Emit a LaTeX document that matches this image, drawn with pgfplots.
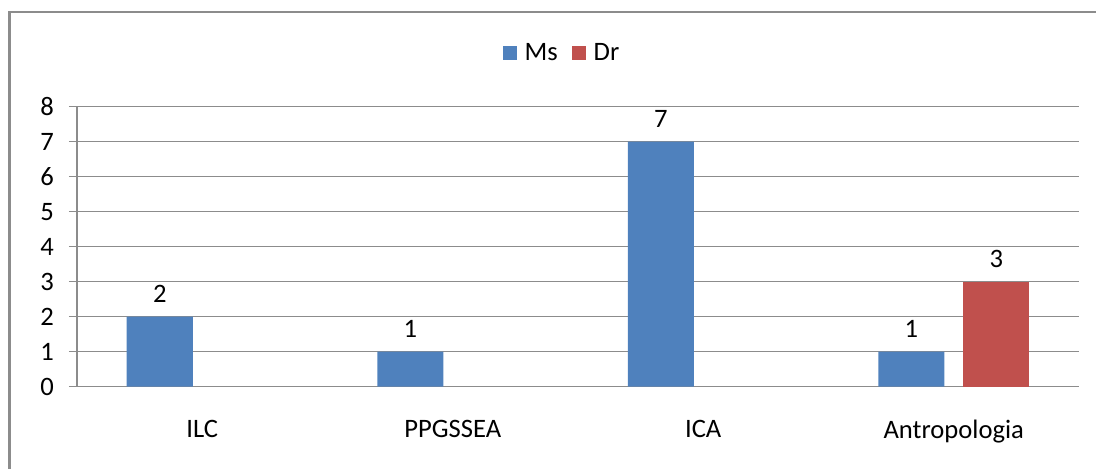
\documentclass[border=0pt]{standalone}
\usepackage{fontspec}
\setmainfont{Carlito}
\usepackage{pgfplots}
\pgfplotsset{compat=1.18}
\definecolor{msblue}{HTML}{4F81BD}
\definecolor{drred}{HTML}{C0504D}
\definecolor{gridgray}{HTML}{8C8C8C}
\newcommand{\cf}{\fontsize{13.3}{16}\selectfont}
\begin{document}
\begin{tikzpicture}
% canvas: 1 px of the reference = 0.5pt
\path[use as bounding box] (0,0) rectangle (548pt,234.5pt);
\draw[gridgray, line width=1.2pt] (4.75pt,0) -- (4.75pt,228.5pt) -- (548pt,228.5pt);
\begin{axis}[
	at={(38.5pt,41.15pt)}, anchor=south west,
	scale only axis, width=501pt, height=140.1pt,
	ybar=9.5pt, bar width=33pt,
	xmin=-0.5, xmax=3.5, ymin=0, ymax=8,
	xtick={0,1,2,3},
	xticklabels={ILC, PPGSSEA, ICA, Antropologia},
	ytick={0,...,8},
	axis x line*=bottom, axis y line*=left,
	axis line style={gridgray, line width=0.6pt},
	x axis line style={-}, y axis line style={-},
	ymajorgrids=true,
	grid style={gridgray, line width=0.6pt},
	tick align=outside, major tick length=4pt,
	xtick style={draw=none},
	ytick style={gridgray, line width=0.6pt},
	tick label style={font=\cf, text=black},
	/pgf/number format/assume math mode=true,
	xticklabel style={yshift=-9pt},
	yticklabel style={xshift=-4pt},
	nodes near coords,
	nodes near coords style={font=\cf, text=black, yshift=3.5pt},
	legend columns=2,
	legend style={at={(0.485,1.191)}, anchor=center, draw=none, font=\cf,
		/tikz/every odd column/.append style={column sep=2pt},
		/tikz/every even column/.append style={column sep=5pt}},
	legend image code/.code={\fill[#1] (0pt,-3.3pt) rectangle (7pt,3.3pt);},
]
\addplot[fill=msblue, draw=none] coordinates {(0,2) (1,1) (2,7) (3,1)};
\addlegendentry{Ms}
\addplot[fill=drred, draw=none] coordinates {(3,3)};
\addlegendentry{Dr}
\end{axis}
\end{tikzpicture}
\end{document}
